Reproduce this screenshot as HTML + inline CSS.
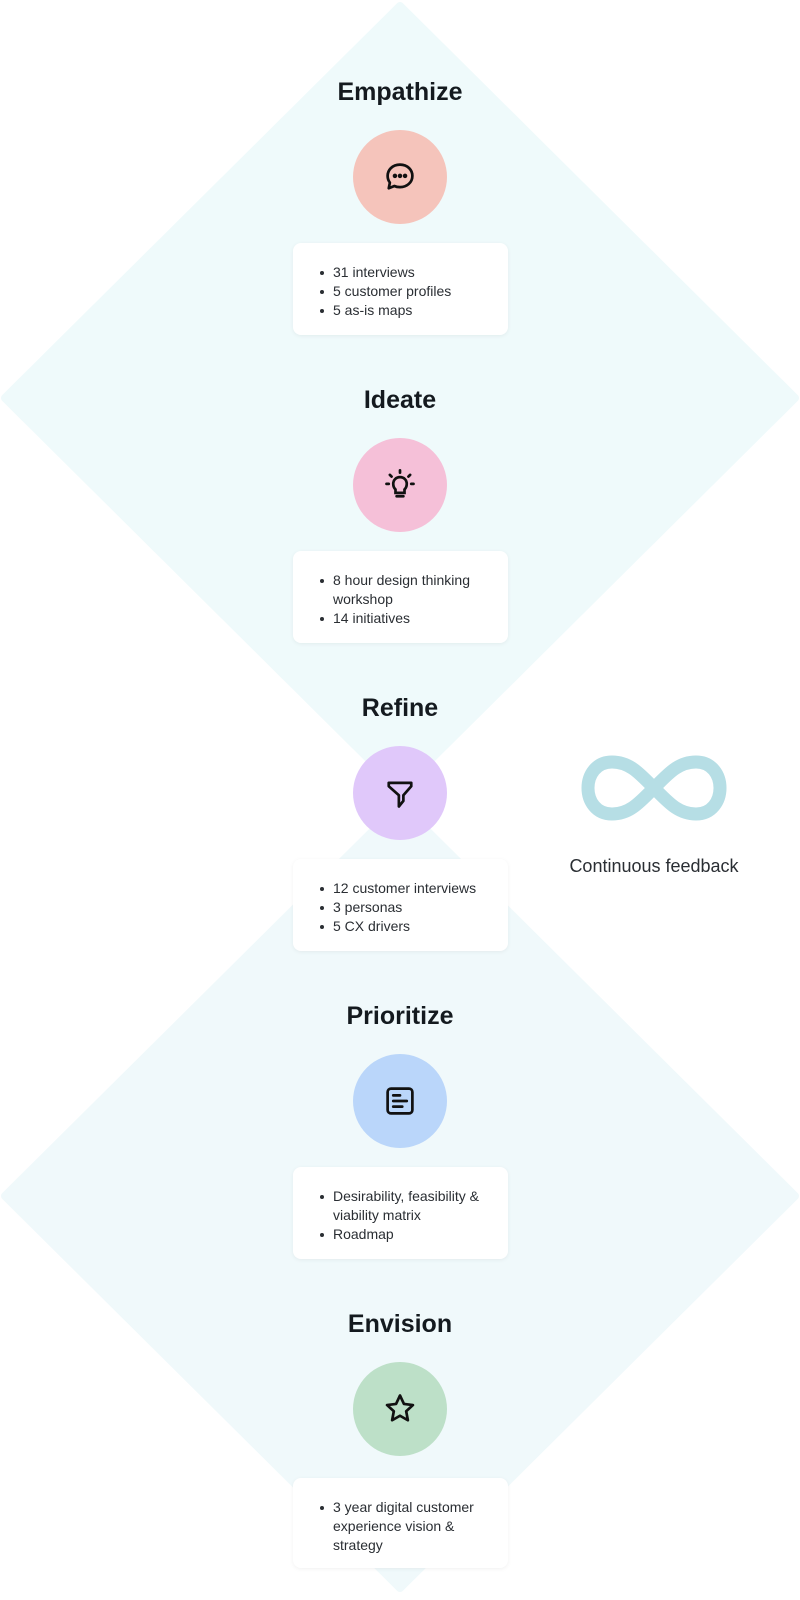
<!DOCTYPE html>
<html><head><meta charset="utf-8"><style>
body{margin:0;width:800px;height:1600px;background:#fff;position:relative;overflow:hidden;font-family:"Liberation Sans",sans-serif;}
.t{position:absolute;left:0;width:800px;text-align:center;font-weight:bold;font-size:25px;color:#141a1f;}
.c{position:absolute;left:353px;width:94px;height:94px;border-radius:50%;}
.c svg{position:absolute;left:29px;top:29px;}
.card{position:absolute;left:293px;width:215px;height:92px;background:#fff;border-radius:8px;box-shadow:0 1px 4px rgba(0,0,0,0.06);box-sizing:border-box;padding:20px 14px 0 40px;font-size:14px;line-height:19px;color:#2a2e33;}
.card ul{margin:0;padding:0 0 0 0;list-style:none;}
.card li{position:relative;}
.card li:before{content:"";position:absolute;left:-13px;top:8px;width:4px;height:4px;border-radius:50%;background:#2a2e33;}
</style></head><body>
<svg width="800" height="1600" style="position:absolute;left:0;top:0">
<polygon points="400,6 795,398 400,790 5,398" fill="#effafb" stroke="#effafb" stroke-width="8" stroke-linejoin="round"/>
<polygon points="400,804 795,1196 400,1588 5,1196" fill="#f0f9fb" stroke="#f0f9fb" stroke-width="8" stroke-linejoin="round"/>
<path d="M654,788 C640,774 630,762 612,762 C596,762 588,775 588,788 C588,801 596,814 612,814 C630,814 640,802 654,788 C668,774 678,762 696,762 C712,762 720,775 720,788 C720,801 712,814 696,814 C678,814 668,802 654,788 Z" fill="none" stroke="#b6dee5" stroke-width="13"/>
<text x="654" y="872" text-anchor="middle" font-family="Liberation Sans, sans-serif" font-size="18" fill="#2a2e33">Continuous feedback</text>
</svg>

<div class="t" style="top:78px">Empathize</div>
<div class="c" style="top:130px;background:#f5c4bb"><svg width="36" height="36" viewBox="0 0 32 32" fill="none" stroke="#111" stroke-width="2.4" stroke-linejoin="round"><path d="M16,5 C23,5 27,10 27,15 C27,21 22,25 16,25 C14,25 12,24.5 11,24 L6,26 L7,21 C5.5,19 5,17 5,15 C5,10 9,5 16,5 Z"/><circle cx="11.5" cy="15" r="0.8" fill="#111"/><circle cx="16" cy="15" r="0.8" fill="#111"/><circle cx="20.5" cy="15" r="0.8" fill="#111"/></svg></div>
<div class="card" style="top:243px"><ul><li>31 interviews</li><li>5 customer profiles</li><li>5 as-is maps</li></ul></div>

<div class="t" style="top:386px">Ideate</div>
<div class="c" style="top:438px;background:#f5c0d8"><svg width="36" height="36" viewBox="0 0 32 32" fill="none" stroke="#111" stroke-width="2.4" stroke-linecap="round"><path d="M12,20 C10,18 10,16 10,15 C10,11.5 12.5,9 16,9 C19.5,9 22,11.5 22,15 C22,16 22,18 20,20 L20,23 L12,23 Z"/><path d="M13,26 L19,26"/><path d="M16,3 L16,5 M7,7 L8.5,8.5 M25,7 L23.5,8.5 M4,15 L6,15 M26,15 L28,15"/></svg></div>
<div class="card" style="top:551px"><ul><li>8 hour design thinking workshop</li><li>14 initiatives</li></ul></div>

<div class="t" style="top:694px">Refine</div>
<div class="c" style="top:746px;background:#e0c8fa"><svg width="36" height="36" viewBox="0 0 32 32" fill="none" stroke="#111" stroke-width="2.4" stroke-linejoin="round"><path d="M6,7 L26,7 L26,10 L19,18 L19,23 L15,28 L15,18 L6,10 Z"/></svg></div>
<div class="card" style="top:859px"><ul><li>12 customer interviews</li><li>3 personas</li><li>5 CX drivers</li></ul></div>

<div class="t" style="top:1002px">Prioritize</div>
<div class="c" style="top:1054px;background:#bad6fa"><svg width="36" height="36" viewBox="0 0 32 32" fill="none" stroke="#111" stroke-width="2.4" stroke-linecap="round"><rect x="5" y="5" width="22" height="22" rx="3"/><path d="M10,11 L16,11 M10,16 L22,16 M10,21 L18,21"/></svg></div>
<div class="card" style="top:1167px"><ul><li>Desirability, feasibility &amp; viability matrix</li><li>Roadmap</li></ul></div>

<div class="t" style="top:1310px">Envision</div>
<div class="c" style="top:1362px;background:#bde0c8"><svg width="36" height="36" viewBox="0 0 32 32" fill="none" stroke="#111" stroke-width="2.4" stroke-linejoin="round"><path d="M16,4 L19.5,11.5 L27.5,12.5 L21.5,18 L23,26 L16,22 L9,26 L10.5,18 L4.5,12.5 L12.5,11.5 Z"/></svg></div>
<div class="card" style="top:1478px;height:90px"><ul><li>3 year digital customer experience vision &amp; strategy</li></ul></div>
</body></html>
